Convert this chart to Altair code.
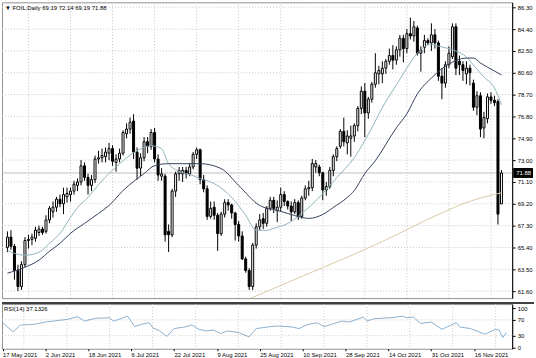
import altair as alt
import pandas as pd
import json

# ---------------- data ----------------
opens = [65.4, 66.3, 65.5, 63.4, 62.0, 63.9, 66.0, 66.1, 66.2, 66.7,
         67.0, 66.8, 67.8, 68.5, 68.9, 69.6, 69.2, 69.8, 70.0, 70.3,
         70.8, 71.1, 72.5, 71.5, 70.8, 71.3, 73.1, 73.2, 73.3, 73.6,
         74.0, 72.8, 73.1, 73.6, 75.3, 75.7, 76.4, 73.7, 72.3, 73.2,
         74.6, 74.2, 75.4, 73.1, 71.6, 71.6, 66.8, 66.5, 70.3, 71.8,
         71.8, 72.1, 71.8, 72.4, 73.5, 73.9, 71.3, 70.5, 68.1, 68.9,
         68.2, 66.6, 68.3, 69.3, 69.1, 68.4, 67.4, 66.4, 64.4, 63.4,
         62.0, 65.6, 67.2, 67.9, 67.5, 68.8, 69.5, 68.6, 68.9, 70.0,
         69.4, 69.0, 68.5, 69.3, 68.1, 69.7, 70.5, 70.6, 72.4, 72.4,
         71.9, 70.4, 70.7, 72.1, 73.3, 74.2, 75.5, 74.5, 74.9, 75.1,
         76.0, 77.5, 79.0, 77.1, 78.3, 79.6, 80.5, 80.5, 81.0, 81.6,
         82.1, 81.7, 82.6, 83.6, 82.7, 84.0, 83.8, 84.5, 82.3, 82.8,
         83.4, 83.2, 83.9, 83.2, 80.3, 79.7, 81.3, 82.0, 84.6, 81.6,
         81.3, 80.5, 81.0, 79.7, 77.6, 78.6, 75.8, 76.6, 78.5, 78.2,
         78.1, 69.19]
highs = [66.8, 66.9, 65.7, 63.9, 64.2, 66.3, 66.5, 66.6, 67.2, 67.3,
         67.2, 68.2, 69.0, 69.4, 69.8, 70.0, 70.6, 70.6, 70.6, 71.2,
         71.4, 73.0, 72.8, 71.8, 71.7, 73.4, 73.8, 74.0, 74.1, 74.5,
         74.3, 73.5, 74.0, 75.6, 76.2, 76.7, 77.0, 74.1, 73.6, 75.0,
         75.0, 75.7, 75.8, 73.5, 72.3, 71.8, 67.4, 70.5, 72.0, 72.4,
         72.4, 72.4, 72.7, 73.7, 74.1, 74.0, 71.7, 70.8, 69.4, 69.4,
         68.4, 68.5, 69.6, 69.6, 69.2, 68.5, 67.7, 66.8, 64.6, 63.6,
         65.8, 67.5, 68.3, 68.4, 69.0, 69.8, 69.8, 69.5, 70.6, 70.3,
         69.5, 69.4, 69.6, 69.5, 69.9, 70.8, 71.2, 73.1, 73.0, 72.6,
         72.0, 71.1, 72.4, 73.5, 74.2, 75.7, 76.7, 75.6, 76.0, 76.2,
         77.7, 79.4, 79.7, 78.5, 79.8, 82.3, 81.2, 81.6, 81.8, 82.7,
         83.0, 82.9, 83.9, 83.9, 84.4, 85.4, 85.1, 84.7, 82.9, 83.9,
         83.6, 84.9, 84.4, 83.4, 81.0, 81.6, 82.9, 84.9, 84.9, 82.1,
         81.6, 81.6, 81.3, 80.0, 79.0, 78.9, 77.2, 78.8, 78.9, 78.6,
         78.3, 72.14]
lows = [65.0, 65.2, 62.6, 61.6, 61.7, 63.7, 65.3, 65.6, 65.9, 66.4,
        66.5, 66.6, 67.5, 68.0, 68.5, 68.9, 68.3, 69.3, 69.4, 70.0,
        70.3, 70.8, 71.2, 70.0, 70.3, 71.0, 72.7, 72.8, 72.8, 73.0,
        72.5, 72.0, 72.8, 73.4, 74.9, 75.3, 73.1, 71.3, 71.6, 72.9,
        73.6, 73.9, 72.8, 71.2, 71.2, 65.9, 65.0, 66.3, 69.8, 71.2,
        71.1, 71.4, 71.6, 72.2, 73.1, 70.9, 70.2, 67.8, 67.9, 67.8,
        65.1, 66.4, 68.0, 68.6, 67.9, 66.0, 65.9, 64.3, 63.2, 61.7,
        61.7, 65.3, 66.9, 67.0, 67.2, 68.6, 68.4, 67.6, 68.5, 69.0,
        68.7, 67.7, 68.3, 67.8, 67.9, 69.5, 69.9, 70.3, 71.9, 71.6,
        69.5, 69.9, 70.5, 71.6, 72.9, 74.0, 74.2, 73.5, 73.3, 74.6,
        75.5, 77.0, 75.0, 76.6, 78.0, 79.3, 79.6, 79.7, 80.5, 81.3,
        80.9, 81.3, 82.0, 81.5, 82.3, 83.5, 83.3, 82.1, 80.7, 82.3,
        83.0, 82.5, 82.7, 79.9, 78.3, 79.3, 81.0, 81.8, 80.4, 80.4,
        79.9, 79.6, 79.5, 77.3, 76.9, 75.0, 74.9, 76.2, 77.9, 77.7,
        67.4, 69.19]
closes = [66.3, 65.5, 63.4, 62.0, 63.9, 66.0, 66.1, 66.3, 66.9, 67.0,
          66.7, 67.8, 68.8, 68.9, 69.6, 69.2, 70.0, 70.1, 70.3, 70.9,
          71.1, 72.5, 71.5, 70.8, 71.3, 73.1, 73.2, 73.4, 73.7, 74.0,
          72.9, 73.1, 73.6, 75.4, 75.7, 76.3, 73.7, 72.3, 73.2, 74.6,
          74.2, 75.4, 73.1, 71.7, 71.8, 66.5, 66.5, 70.3, 71.8, 72.1,
          72.1, 71.8, 72.4, 73.5, 73.9, 71.3, 70.5, 68.1, 68.8, 68.2,
          66.6, 68.3, 69.3, 69.1, 68.4, 67.4, 66.4, 64.4, 63.4, 62.0,
          65.6, 67.2, 67.8, 67.5, 68.8, 69.5, 68.8, 68.9, 70.0, 69.4,
          69.0, 68.5, 69.3, 68.1, 69.7, 70.5, 70.6, 72.7, 72.7, 71.9,
          70.4, 70.7, 72.1, 73.3, 74.0, 75.5, 74.6, 75.1, 75.1, 76.0,
          77.5, 79.0, 77.1, 78.3, 79.6, 80.6, 80.8, 81.0, 81.6, 82.1,
          81.7, 82.6, 83.6, 82.7, 84.0, 83.8, 84.6, 82.3, 82.6, 83.4,
          83.2, 83.9, 83.2, 80.3, 79.7, 81.3, 82.3, 84.6, 81.0, 81.3,
          80.8, 81.0, 80.6, 77.6, 78.6, 75.7, 76.7, 78.5, 78.2, 78.0,
          68.3, 71.88]

# moving averages (bar index, value)
fast_bars = [0, 2, 5, 9, 12, 15, 18, 20, 23, 26, 29, 33, 37, 41, 44, 46, 50, 53, 55, 59,
             64, 68, 71, 74, 76, 80, 84, 90, 94, 99, 102, 104, 106, 108, 111, 114, 117,
             121, 123, 128, 131, 133, 136, 139, 141]
fast_vals = [65.15, 64.89, 64.72, 64.98, 65.76, 66.63, 68.01, 68.88, 69.75, 70.87, 71.83,
             72.95, 73.82, 74.25, 73.99, 72.69, 71.91, 71.65, 71.39, 70.96, 69.75, 68.2,
             66.89, 66.89, 67.06, 67.49, 68.36, 70.09, 71.48, 73.21, 74.7, 75.8, 77.0, 78.1,
             79.54, 81.01, 82.31, 83.09, 82.92, 82.49, 81.97, 81.27, 80.23, 79.28, 77.81]
slow_bars = [0, 5, 9, 12, 15, 18, 22, 26, 29, 33, 39, 42, 46, 50, 55, 61, 66, 72, 77, 80,
             84, 86, 90, 93, 97, 99, 102, 105, 111, 114, 117, 121, 126, 131, 133, 135, 139, 141]
slow_vals = [63.16, 63.68, 64.29, 65.07, 65.76, 66.63, 67.49, 68.36, 69.05, 70.35, 71.83,
             72.52, 72.69, 72.69, 72.69, 72.26, 70.79, 69.05, 68.62, 68.36, 68.01, 67.93,
             68.27, 68.88, 69.75, 70.35, 71.83, 72.95, 75.81, 77.03, 78.76, 80.14, 81.36,
             81.88, 81.88, 81.45, 80.75, 80.41]
ma200_bars = [66, 70, 80, 90, 100, 110, 120, 125, 130, 135, 141]
ma200_vals = [60.5, 61.05, 62.35, 63.65, 64.95, 66.35, 67.85, 68.55, 69.2, 69.7, 70.15]

rsi_bars = [0, 3, 5, 9, 12, 16, 18, 21, 23, 26, 30, 31, 32, 35, 37, 39, 41, 42, 44, 46,
            48, 51, 53, 55, 57, 59, 61, 63, 66, 69, 71, 75, 77, 81, 83, 85, 88, 90, 95, 97,
            101, 102, 104, 109, 112, 113, 115, 117, 120, 123, 127, 128, 131, 135, 138, 139,
            140, 141]
rsi_vals = [63, 39.5, 57, 59, 64.5, 69, 71, 78, 67, 74, 75.5, 67, 69.5, 79.5, 53, 59, 63,
            50.5, 42, 28, 48, 52, 57, 46, 42, 44.5, 35.5, 42, 38, 27, 48, 53, 54.5, 52, 48,
            57, 63, 53, 67, 64.5, 77, 67, 73, 75.5, 79.5, 75.5, 77, 61, 64.5, 46, 63, 52,
            48, 34, 46, 44, 25.5, 37.1326]

date_labels = ["17 May 2021", "2 Jun 2021", "18 Jun 2021", "6 Jul 2021", "22 Jul 2021",
               "9 Aug 2021", "25 Aug 2021", "10 Sep 2021", "28 Sep 2021", "14 Oct 2021",
               "31 Oct 2021", "16 Nov 2021"]
label_bars = [0, 12, 24, 36, 48, 60, 72, 84, 96, 108, 120, 132]
grid_bars = [6, 18, 30, 42, 54, 66, 78, 90, 102, 114, 126, 138]
price_ticks = [61.60, 63.50, 65.40, 67.30, 69.20, 71.10, 73.00, 74.90, 76.80, 78.70,
               80.60, 82.50, 84.40, 86.30]
rsi_ticks = [0, 30, 70, 100]
rsi_levels = [30, 70]
symbol = "FOIL,Daily"
rsi_name = "RSI(14)"

# ---------------- build ----------------
FONT = "Liberation Sans"
FS = 6
W, H1, H2 = 514, 298, 45

n = len(closes)
cdf = pd.DataFrame({
    "i": list(range(n)), "o": opens, "h": highs, "l": lows, "c": closes,
})
cdf["lo"] = cdf[["o", "c"]].min(axis=1)
cdf["hi"] = cdf[["o", "c"]].max(axis=1)
cdf["dir"] = ["up" if c >= o else "down" for o, c in zip(opens, closes)]

xs = alt.Scale(domain=[-0.14, 142.64], nice=False, zero=False)
ys = alt.Scale(domain=[60.99, 86.73], nice=False, zero=False)
rs = alt.Scale(domain=[-3, 110], nice=False, zero=False)

GRID = "#c8c8c8"

AX_Y = alt.Axis(orient="right", values=price_ticks, format=".2f", grid=False,
                tickSize=3, tickColor="#000", domainColor="#000", labelColor="#000",
                labelFontSize=FS, labelFont=FONT, labelPadding=2, labelOverlap=False,
                labelFlush=False, title=None)
AX_RY = alt.Axis(orient="right", values=rsi_ticks, format="d", grid=False, tickSize=3,
                 tickColor="#000", domainColor="#000", labelColor="#000", labelFontSize=FS,
                 labelFont=FONT, labelPadding=2, labelOverlap=False, labelFlush=False,
                 title=None)
labels_js = json.dumps(date_labels)
AX_X = alt.Axis(values=label_bars, labelExpr=f"{labels_js}[round(datum.value/12)]",
                labelAlign="left", labelFlush=False, labelOverlap=False, grid=False,
                tickSize=2, tickColor="#000", domain=False, labelColor="#000",
                labelFontSize=FS, labelFont=FONT, labelPadding=1, title=None)

X_MAIN = lambda f: alt.X(f, scale=xs, axis=None)
Y_MAIN = lambda f: alt.Y(f, scale=ys, axis=AX_Y)
X_RSI = lambda f: alt.X(f, scale=xs, axis=AX_X)
Y_RSI = lambda f: alt.Y(f, scale=rs, axis=AX_RY)

hgrid = alt.Chart(pd.DataFrame({"v": price_ticks})).mark_rule(
    color=GRID, strokeDash=[1, 2], strokeWidth=1).encode(y=Y_MAIN("v:Q"))
vgrid = alt.Chart(pd.DataFrame({"i": grid_bars})).mark_rule(
    color=GRID, strokeDash=[1, 2], strokeWidth=1).encode(x=X_MAIN("i:Q"))

bid_line = alt.Chart(pd.DataFrame({"v": [closes[-1]]})).mark_rule(
    color="#c0c0c0", strokeWidth=1).encode(y=Y_MAIN("v:Q"))

def ma_layer(bars, vals, color):
    return alt.Chart(pd.DataFrame({"i": bars, "v": vals})).mark_line(
        color=color, strokeWidth=1, clip=True, interpolate="monotone").encode(
        x=X_MAIN("i:Q"), y=Y_MAIN("v:Q"))

wick = alt.Chart(cdf).mark_rule(color="black", strokeWidth=1, clip=True).encode(
    x=X_MAIN("i:Q"), y=Y_MAIN("l:Q"), y2="h:Q")

body = alt.Chart(cdf).mark_bar(size=2, stroke="black", strokeWidth=1, clip=True,
                               orient="vertical").encode(
    x=X_MAIN("i:Q"), y=Y_MAIN("lo:Q"), y2="hi:Q",
    fill=alt.Fill("dir:N", scale=alt.Scale(domain=["up", "down"], range=["white", "black"]),
                  legend=None))

header = "\u25BC " + symbol + "  " + " ".join(f"{v:.2f}" for v in
                                              [opens[-1], highs[-1], lows[-1], closes[-1]])
head = alt.Chart(pd.DataFrame({"t": [header]})).mark_text(
    align="left", baseline="middle", fontSize=FS, font=FONT, color="#000").encode(
    x=alt.value(3), y=alt.value(6), text="t:N")

tag_df = pd.DataFrame({"v": [closes[-1]], "t": [f"{closes[-1]:.2f}"]})
tag_rect = alt.Chart(tag_df).mark_rect(color="#000", yOffset=-5, y2Offset=5).encode(
    x=alt.value(W + 1), x2=alt.value(W + 21), y=Y_MAIN("v:Q"), y2="v:Q")
tag_text = alt.Chart(tag_df).mark_text(
    align="left", baseline="middle", fontSize=FS, font=FONT, color="#fff").encode(
    x=alt.value(W + 4), y=Y_MAIN("v:Q"), text="t:N")

main = alt.layer(hgrid, vgrid, bid_line, wick, body,
                 ma_layer(ma200_bars, ma200_vals, "#d9c9a6"),
                 ma_layer(fast_bars, fast_vals, "#8fb4bd"),
                 ma_layer(slow_bars, slow_vals, "#35415c"),
                 head, tag_rect, tag_text).properties(width=W, height=H1)

# RSI panel
rgrid_v = alt.Chart(pd.DataFrame({"i": grid_bars})).mark_rule(
    color=GRID, strokeDash=[1, 2], strokeWidth=1).encode(x=X_RSI("i:Q"))
rlev = alt.Chart(pd.DataFrame({"v": rsi_levels})).mark_rule(
    color=GRID, strokeDash=[1, 2], strokeWidth=1).encode(y=Y_RSI("v:Q"))
rline = alt.Chart(pd.DataFrame({"i": rsi_bars, "v": rsi_vals})).mark_line(
    color="#8ab0d0", strokeWidth=1, clip=True).encode(x=X_RSI("i:Q"), y=Y_RSI("v:Q"))
rhead = alt.Chart(pd.DataFrame({"t": [f"{rsi_name} {rsi_vals[-1]:.4f}"]})).mark_text(
    align="left", baseline="middle", fontSize=FS, font=FONT, color="#000").encode(
    x=alt.value(2), y=alt.value(5), text="t:N")
sep = alt.Chart(pd.DataFrame({"a": [0]})).mark_rule(color="#404040", strokeWidth=2).encode(
    x=alt.value(0), x2=alt.value(536), y=alt.value(-1))

rsi = alt.layer(rgrid_v, rlev, rline, rhead, sep).properties(width=W, height=H2)

chart = alt.vconcat(main, rsi, spacing=2).properties(
    padding={"left": 0, "top": 0, "right": 0, "bottom": 0},
    background="white").configure_view(stroke="#909090", strokeWidth=1)

chart.save("out.html", embed_options={"renderer": "svg", "actions": False})
